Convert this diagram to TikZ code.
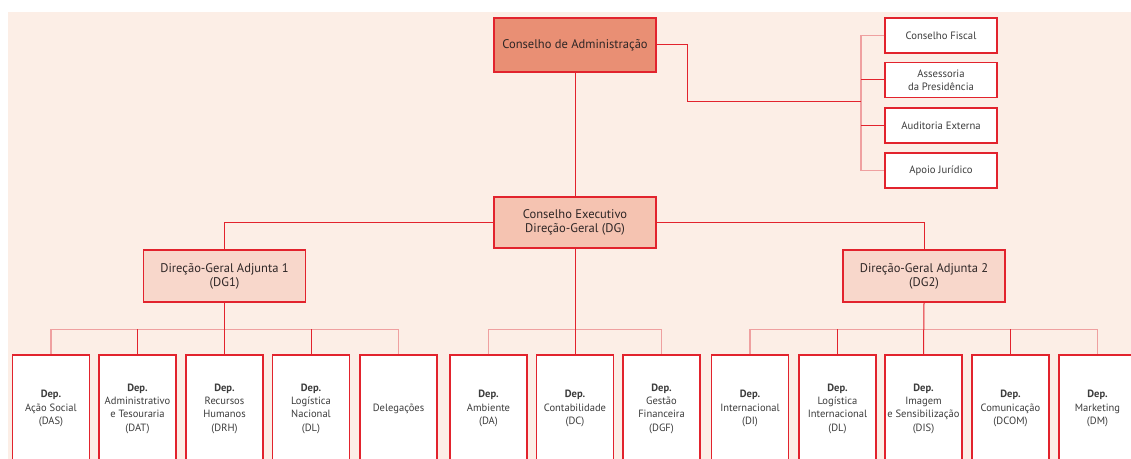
\documentclass[tikz,border=0pt]{standalone}
\usepackage{fontspec}
\setmainfont{PT Sans}
\definecolor{bgpeach}{HTML}{FCEEE6}
\definecolor{orgred}{HTML}{E2232D}
\definecolor{orgpink}{HTML}{EFA0A0}
\definecolor{cafill}{HTML}{E98F74}
\definecolor{cefill}{HTML}{F5C3B1}
\definecolor{dgfill}{HTML}{F8D7CB}
\definecolor{txtdark}{HTML}{2E2626}
\definecolor{txtgray}{HTML}{3C3C3C}

\begin{document}
\begin{tikzpicture}[x=0.75pt, y=-0.75pt,
    box/.style={draw=orgred, line width=1pt, inner sep=0pt, align=center},
    headbox/.style={box, text=txtdark, minimum width=121.5pt, font=\fontsize{9.4}{10.5}\selectfont},
    sidebox/.style={box, fill=white, text=txtgray, minimum width=84pt, minimum height=26.3pt, font=\fontsize{8}{9.5}\selectfont},
    depbox/.style={box, fill=white, text=txtgray, minimum width=57.8pt, minimum height=80.3pt, font=\fontsize{7.9}{10}\selectfont},
    redline/.style={draw=orgred, line width=0.75pt},
    pinkline/.style={draw=orgpink, line width=1.1pt}]

    % Page and background
    \clip (0,0) rectangle (1131,459);
    \fill[bgpeach] (8,12) rectangle (1131,459);

    % Top level
    \node[headbox, fill=cafill, minimum height=40.5pt] (ca) at (575,45) {Conselho de Administração};
    \node[headbox, fill=cefill, minimum height=38.3pt] (ce) at (575,222.5) {Conselho Executivo\\Direção-Geral (DG)};
    \node[headbox, fill=dgfill, minimum height=39pt] (dg1) at (224.5,276) {Direção-Geral Adjunta 1\\(DG1)};
    \node[headbox, fill=dgfill, minimum height=39pt] (dg2) at (924,276) {Direção-Geral Adjunta 2\\(DG2)};

    % Side boxes
    \node[sidebox] (cf) at (941,35.5) {Conselho Fiscal};
    \node[sidebox] (ap) at (941,80) {Assessoria\\da Presidência};
    \node[sidebox] (ae) at (941,125.5) {Auditoria Externa};
    \node[sidebox] (aj) at (941,170.5) {Apoio Jurídico};

    % Departments DG1
    \node[depbox] (das) at (51,408.5) {\textbf{Dep.}\\Ação Social\\(DAS)};
    \node[depbox] (dat) at (137.5,408.5) {\textbf{Dep.}\\Administrativo\\e Tesouraria\\(DAT)};
    \node[depbox] (drh) at (224.5,408.5) {\textbf{Dep.}\\Recursos\\Humanos\\(DRH)};
    \node[depbox] (dln) at (311,408.5) {\textbf{Dep.}\\Logística\\Nacional\\(DL)};
    \node[depbox] (del) at (398.5,408.5) {Delegações};

    % Departments DG
    \node[depbox] (da) at (488.5,408.5) {\textbf{Dep.}\\Ambiente\\(DA)};
    \node[depbox] (dc) at (575,408.5) {\textbf{Dep.}\\Contabilidade\\(DC)};
    \node[depbox] (dgf) at (661.5,408.5) {\textbf{Dep.}\\Gestão\\Financeira\\(DGF)};

    % Departments DG2
    \node[depbox] (di) at (750,408.5) {\textbf{Dep.}\\Internacional\\(DI)};
    \node[depbox] (dli) at (837.5,408.5) {\textbf{Dep.}\\Logística\\Internacional\\(DL)};
    \node[depbox] (dis) at (923.5,408.5) {\textbf{Dep.}\\Imagem\\e Sensibilização\\(DIS)};
    \node[depbox] (dcom) at (1010.5,408.5) {\textbf{Dep.}\\Comunicação\\(DCOM)};
    \node[depbox] (dm) at (1097.5,408.5) {\textbf{Dep.}\\Marketing\\(DM)};

    % Links to side boxes
    \coordinate (jog) at (687,102);
    \coordinate (br) at (861,102);
    \draw[pinkline] (cf.west) -| (br) |- (aj.west);
    \draw[redline] (ca.east) -| (jog) -- (br);
    \draw[redline] (br |- ap.west) -- (ap.west);
    \draw[redline] (br |- ae.west) -- (ae.west);

    % Main hierarchy
    \draw[redline] (ca.south) -- (ce.north);
    \draw[redline] (ce.west) -| (dg1.north);
    \draw[redline] (ce.east) -| (dg2.north);

    % Buses
    \draw[pinkline] (das.north) -- ++(0,-25) -| (del.north);
    \draw[pinkline] (da.north) -- ++(0,-25) -| (dgf.north);
    \draw[pinkline] (di.north) -- ++(0,-25) -| (dm.north);

    % Drops
    \draw[redline] (dg1.south) -- (drh.north);
    \draw[redline] (ce.south) -- (dc.north);
    \draw[redline] (dg2.south) -- (dis.north);
    \draw[redline] (dat.north) -- ++(0,-25);
    \draw[redline] (dln.north) -- ++(0,-25);
    \draw[redline] (dli.north) -- ++(0,-25);
    \draw[redline] (dcom.north) -- ++(0,-25);

\end{tikzpicture}
\end{document}
